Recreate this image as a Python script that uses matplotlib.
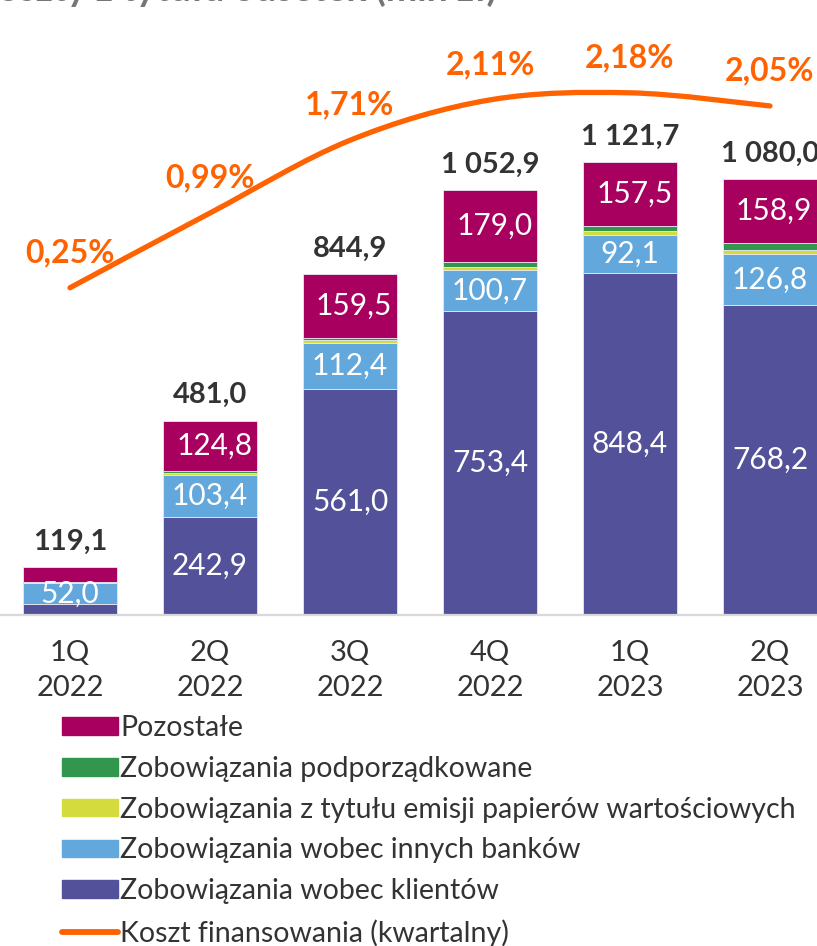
import matplotlib
matplotlib.use("Agg")
import matplotlib.pyplot as plt
from matplotlib.path import Path
from matplotlib.patches import PathPatch
from matplotlib.lines import Line2D
from matplotlib.patches import Patch
import numpy as np

plt.rcParams['font.family'] = ['Lato', 'DejaVu Sans']

categories = ["1Q\n2022", "2Q\n2022", "3Q\n2022", "4Q\n2022", "1Q\n2023", "2Q\n2023"]
klienci = [26.5, 242.9, 561.0, 753.4, 848.4, 768.2]
banki = [52.0, 103.4, 112.4, 100.7, 92.1, 126.8]
emisja = [2.5, 6.5, 7.5, 9.0, 9.7, 9.1]
podporz = [1.0, 3.4, 4.5, 10.8, 14.0, 17.0]
pozostale = [37.1, 124.8, 159.5, 179.0, 157.5, 158.9]
totals = [119.1, 481.0, 844.9, 1052.9, 1121.7, 1080.0]
koszt = [0.25, 0.99, 1.71, 2.11, 2.18, 2.05]

labels_klienci = [None, "242,9", "561,0", "753,4", "848,4", "768,2"]
labels_banki = ["52,0", "103,4", "112,4", "100,7", "92,1", "126,8"]
labels_pozostale = [None, "124,8", "159,5", "179,0", "157,5", "158,9"]

series_names = ["Pozostałe", "Zobowiązania podporządkowane",
                "Zobowiązania z tytułu emisji papierów wartościowych",
                "Zobowiązania wobec innych banków", "Zobowiązania wobec klientów",
                "Koszt finansowania (kwartalny)"]
title = "Koszty z tytułu odsetek (mln zł)"

c_kl = "#52519a"
c_bk = "#62a8dc"
c_em = "#d3dc3c"
c_pp = "#33964f"
c_po = "#a8005f"
c_or = "#ff6200"

def fmt(v):
    return f"{v:,.1f}".replace(",", " ").replace(".", ",")

W, H = 817, 946
fig = plt.figure(figsize=(W/100, H/100), dpi=100)
ax = fig.add_axes([0, (H-615)/H, 1, (615-40)/H])
x = np.arange(len(categories))
bw = 0.665
kw = dict(width=bw, edgecolor="#e8e8f0", linewidth=0.6)
b = np.zeros(len(x))
for vals, col in [(klienci, c_kl), (banki, c_bk), (emisja, c_em), (podporz, c_pp), (pozostale, c_po)]:
    ax.bar(x, vals, bottom=b, color=col, **kw)
    b = b + np.array(vals)

px_per_unit = 0.4037
ax.set_ylim(0, 575/px_per_unit)
ax.set_xlim(-0.5, W/140 - 0.5)

fs_in = 21.5
for i in range(len(x)):
    if labels_klienci[i]:
        ax.text(x[i], klienci[i]/2, labels_klienci[i], ha='center', va='center', color='white', fontsize=fs_in)
    y0 = klienci[i]
    ax.text(x[i], y0 + banki[i]/2, labels_banki[i], ha='center', va='center', color='white', fontsize=fs_in)
    y1 = klienci[i] + banki[i] + emisja[i] + podporz[i]
    if labels_pozostale[i]:
        ax.text(x[i] + 0.03, y1 + pozostale[i]/2, labels_pozostale[i], ha='center', va='center', color='white', fontsize=fs_in)
    ax.annotate(fmt(totals[i]), (x[i], b[i]), xytext=(0, 9), textcoords='offset points',
                ha='center', va='bottom', color='#333333', fontsize=21, fontweight='bold')

for s in ['top', 'right', 'left']:
    ax.spines[s].set_visible(False)
ax.spines['bottom'].set_color('#d9d9d9')
ax.spines['bottom'].set_linewidth(1.6)
ax.set_yticks([])
ax.set_xticks(x)
ax.set_xticklabels(categories, fontsize=21, color='#333333', linespacing=1.45)
ax.tick_params(axis='x', length=0, pad=18)

# secondary axis
ax2 = ax.twinx()
ax2.set_ylim(-302/101, 273/101)
for s in ax2.spines.values():
    s.set_visible(False)
ax2.set_yticks([])

P = np.column_stack([x, koszt]).astype(float)
verts = [tuple(P[0])]
codes = [Path.MOVETO]
n = len(P)
for i in range(n-1):
    p0 = P[i-1] if i > 0 else P[i]
    p1 = P[i]
    p2 = P[i+1]
    p3 = P[i+2] if i+2 < n else P[i+1]
    c1 = p1 + (p2 - p0)/6
    c2 = p2 - (p3 - p1)/6
    verts += [tuple(c1), tuple(c2), tuple(p2)]
    codes += [Path.CURVE4]*3
ax2.add_patch(PathPatch(Path(verts, codes), facecolor='none', edgecolor=c_or, lw=3.8, capstyle='round'))

for i in range(n):
    ax2.annotate(f"{koszt[i]:.2f}%".replace(".", ","), (x[i], koszt[i]), xytext=(0, 25.5),
                 textcoords='offset points', ha='center', va='center', color=c_or,
                 fontsize=23, fontweight='bold')

# title (cut off at top of the image)
fig.text(497/W, 1 - 1/H, title, ha='right', va='baseline',
         fontsize=27, fontweight='bold', color='#767676')

handles = [Patch(color=c_po), Patch(color=c_pp), Patch(color=c_em), Patch(color=c_bk), Patch(color=c_kl),
           Line2D([], [], color=c_or, lw=4.2, solid_capstyle='round')]
leg = fig.legend(handles, series_names, loc='upper left', bbox_to_anchor=(62/W, 1 - 715/H),
                 frameon=False, fontsize=20.5, handlelength=1.95, handleheight=0.58,
                 handletextpad=0.1, labelspacing=0.52, borderaxespad=0, borderpad=0)
for t in leg.get_texts():
    t.set_color('#333333')

fig.savefig("out.png", dpi=100)
